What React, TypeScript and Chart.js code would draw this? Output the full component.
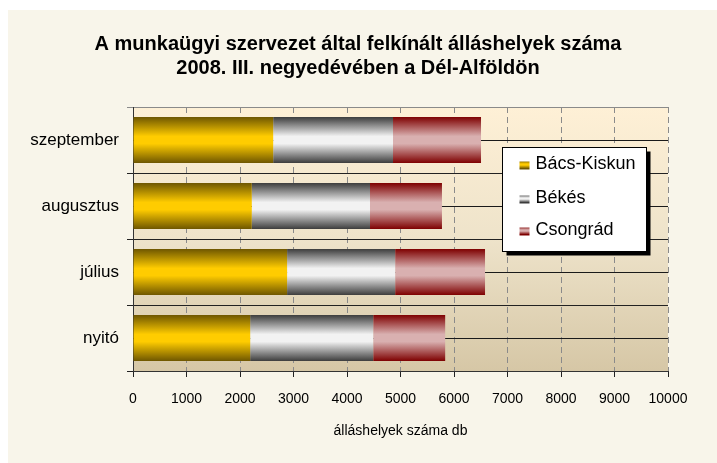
import React, { useEffect, useRef } from 'react';
import { Chart, registerables } from 'chart.js';

Chart.register(...registerables);

const categories = ['szeptember', 'augusztus', 'július', 'nyitó'];
const bacsKiskun = [2620, 2220, 2880, 2190];
const bekes = [2240, 2210, 2020, 2300];
const csongrad = [1645, 1345, 1680, 1345];
const seriesNames = ['Bács-Kiskun', 'Békés', 'Csongrád'];
const xMin = 0;
const xMax = 10000;
const xStep = 1000;
const titleLines = ['A munkaügyi szervezet által felkínált álláshelyek száma', '2008. III. negyedévében a Dél-Alföldön'];
const xAxisTitle = 'álláshelyek száma db';

const palette = [
  { edge: '#6e5600', mid: '#FFCC00' },
  { edge: '#3c3c3c', mid: '#F2F2F2' },
  { edge: '#7e0000', mid: '#D9B0B0' },
];

const FONT = "'Liberation Sans', Arial, sans-serif";
const BAR_PCT = 0.7;

function makeGrad(ctx: CanvasRenderingContext2D, y0: number, y1: number, p: { edge: string; mid: string }) {
  const g = ctx.createLinearGradient(0, y0, 0, y1);
  g.addColorStop(0, p.edge);
  g.addColorStop(0.42, p.mid);
  g.addColorStop(0.58, p.mid);
  g.addColorStop(1, p.edge);
  return g;
}

function barFill(i: number) {
  return (c: any) => {
    const chart = c.chart;
    const ys = chart.scales && chart.scales.y;
    if (!ys || c.type !== 'data' || !(ys.bottom > ys.top)) return palette[i].mid;
    const yc = ys.getPixelForValue(c.dataIndex);
    const band = (ys.bottom - ys.top) / categories.length;
    const h = band * BAR_PCT;
    return makeGrad(chart.ctx, yc - h / 2, yc + h / 2, palette[i]);
  };
}

const bgPlugin = {
  id: 'bgPlugin',
  beforeDraw(chart: any) {
    const { ctx, chartArea: a } = chart;
    ctx.save();
    ctx.fillStyle = '#F8F5EA';
    ctx.fillRect(0, 0, chart.width, chart.height);
    const g = ctx.createLinearGradient(0, a.top, 0, a.bottom);
    g.addColorStop(0, '#FEF0D6');
    g.addColorStop(0.5, '#EEE3CA');
    g.addColorStop(1, '#D6C7A6');
    ctx.fillStyle = g;
    ctx.fillRect(a.left, a.top, a.right - a.left, a.bottom - a.top);
    ctx.restore();
  },
};

const centerLines = {
  id: 'centerLines',
  beforeDatasetsDraw(chart: any) {
    const { ctx, chartArea: a } = chart;
    const ys = chart.scales.y;
    ctx.save();
    ctx.strokeStyle = '#1a1a1a';
    ctx.lineWidth = 1;
    for (let i = 0; i < categories.length; i++) {
      const y = Math.round(ys.getPixelForValue(i)) + 0.5;
      ctx.beginPath();
      ctx.moveTo(a.left, y);
      ctx.lineTo(a.right, y);
      ctx.stroke();
    }
    ctx.restore();
  },
};

const titlePlugin = {
  id: 'titlePlugin',
  afterDraw(chart: any) {
    const { ctx, chartArea: a } = chart;
    ctx.save();
    ctx.font = `bold 20px ${FONT}`;
    ctx.fillStyle = '#000';
    ctx.textAlign = 'center';
    ctx.textBaseline = 'middle';
    const cx = a.left + 225;
    titleLines.forEach((t, i) => ctx.fillText(t, cx, a.top - 63 + i * 24));
    ctx.restore();
  },
};

const boxLegend = {
  id: 'boxLegend',
  afterDraw(chart: any) {
    const { ctx, chartArea: a } = chart;
    const x = Math.round(a.left + 369) + 0.5;
    const y = Math.round(a.top + 40) + 0.5;
    const w = 144;
    const h = 104;
    ctx.save();
    ctx.fillStyle = '#000';
    ctx.fillRect(x + 4, y + 4, w, h);
    ctx.fillStyle = '#fff';
    ctx.fillRect(x, y, w, h);
    ctx.strokeStyle = '#000';
    ctx.lineWidth = 1;
    ctx.strokeRect(x, y, w, h);
    ctx.font = `18px ${FONT}`;
    ctx.textBaseline = 'middle';
    ctx.textAlign = 'left';
    const rows = [17, 51, 83];
    seriesNames.forEach((name, i) => {
      const cy = y + rows[i];
      const mx = x + 17;
      const mh = 8;
      ctx.fillStyle = makeGrad(ctx, cy - mh / 2, cy + mh / 2, palette[i]);
      ctx.fillRect(mx, cy - mh / 2 + 1, 10, mh);
      ctx.fillStyle = '#000';
      ctx.fillText(name, x + 33, cy);
    });
    ctx.restore();
  },
};

export default function App() {
  const ref = useRef<HTMLCanvasElement | null>(null);
  useEffect(() => {
    const canvas = ref.current;
    if (!canvas) return;
    const seriesData = [bacsKiskun, bekes, csongrad];
    const chart = new Chart(canvas, {
      type: 'bar',
      data: {
        labels: categories,
        datasets: seriesNames.map((name, i) => ({
          label: name,
          data: seriesData[i],
          backgroundColor: barFill(i),
          borderWidth: 0,
          barPercentage: BAR_PCT,
          categoryPercentage: 1,
        })),
      },
      options: {
        indexAxis: 'y',
        responsive: false,
        animation: false,
        events: [],
        layout: { padding: { left: 0, right: 49, top: 97, bottom: 0 } },
        plugins: {
          legend: { display: false },
          tooltip: { enabled: false },
          title: { display: false },
        },
        scales: {
          x: {
            type: 'linear',
            stacked: true,
            min: xMin,
            max: xMax,
            ticks: {
              stepSize: xStep,
              color: '#000',
              font: { family: FONT, size: 14 },
              padding: 14,
              maxRotation: 0,
              callback: (v: any) => String(v),
            },
            grid: { color: '#8a8a8a', tickColor: '#222', tickLength: 6, tickBorderDash: [], lineWidth: 1 },
            border: { display: true, color: '#333', width: 1, dash: [6, 4] },
            title: { display: true, text: xAxisTitle, color: '#000', font: { family: FONT, size: 14, lineHeight: 1.2 }, padding: { top: 4, bottom: 23 } },
            afterFit(scale: any) { scale.height = 92; },
          },
          y: {
            type: 'category',
            stacked: true,
            offset: true,
            ticks: { color: '#000', font: { family: FONT, size: 17 }, padding: 8 },
            grid: {
              offset: true,
              color: (c: any) => (c.index === 0 ? '#8a8a8a' : '#222'),
              tickColor: (c: any) => (c.index === 0 ? '#8a8a8a' : '#222'),
              tickLength: 6,
              lineWidth: 1,
            },
            border: { display: true, color: '#333', width: 1 },
            afterFit(scale: any) { scale.width = 125; },
          },
        },
      },
      plugins: [bgPlugin, centerLines, titlePlugin, boxLegend],
    } as any);
    return () => chart.destroy();
  }, []);
  return (
    <div style={{ position: 'fixed', left: 8, top: 10, width: 709, height: 453 }}>
      <canvas ref={ref} width={709} height={453} style={{ display: 'block', width: 709, height: 453 }} />
    </div>
  );
}
